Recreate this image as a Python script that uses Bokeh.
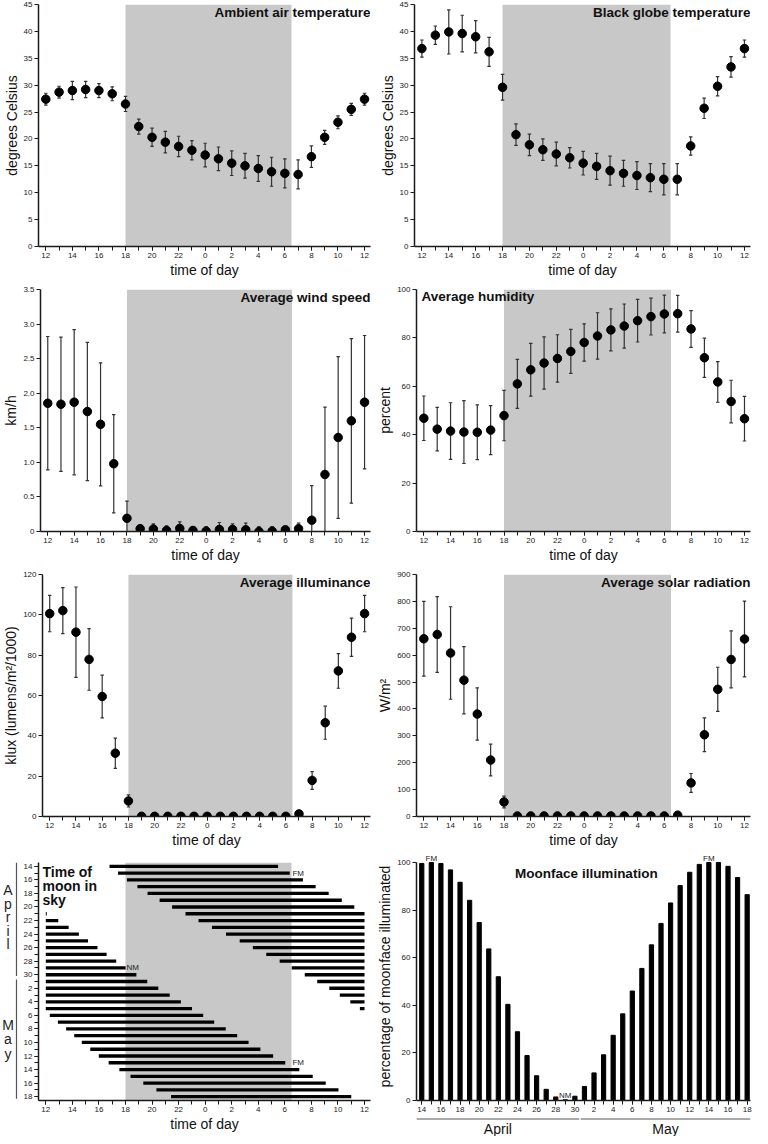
import math
from bokeh.plotting import figure
from bokeh.models import (Range1d, FixedTicker, ColumnDataSource, BoxAnnotation,
                          Label, PrintfTickFormatter)
from bokeh.layouts import column, row
from bokeh.embed import file_html
from bokeh.resources import INLINE
from bokeh.core.properties import value

# ---------------------------------------------------------------- data
hours = list(range(12, 37))          # 12:00 -> 12:00 next day
hour_ticks = [12, 14, 16, 18, 20, 22, 24, 26, 28, 30, 32, 34, 36]
hour_tick_labels = ["12", "14", "16", "18", "20", "22", "0", "2", "4", "6", "8", "10", "12"]
night_start = 18.0
night_end = 30.5

air_temp_mean = [27.4, 28.7, 29.0, 29.2, 29.0, 28.4, 26.5, 22.3, 20.3, 19.4, 18.6, 17.9, 17.0,
                 16.3, 15.5, 15.0, 14.5, 13.9, 13.6, 13.4, 16.7, 20.3, 23.1, 25.5, 27.4]
air_temp_err = [1.1, 1.1, 1.7, 1.5, 1.3, 1.3, 1.4, 1.4, 1.7, 2.0, 1.9, 1.8, 2.2,
                2.2, 2.3, 2.3, 2.4, 2.7, 2.7, 2.7, 2.0, 1.3, 1.2, 1.1, 1.1]

globe_mean = [36.8, 39.3, 39.9, 39.6, 39.0, 36.2, 29.6, 20.8, 18.9, 18.0, 17.2, 16.5, 15.5,
              14.9, 14.1, 13.6, 13.2, 12.8, 12.5, 12.5, 18.7, 25.7, 29.8, 33.4, 36.8]
globe_err = [1.6, 1.7, 4.1, 3.4, 3.0, 2.7, 2.4, 2.0, 2.0, 2.0, 2.2, 1.9, 2.2,
             2.4, 2.7, 2.4, 2.6, 2.6, 2.9, 2.9, 1.7, 1.9, 1.8, 1.9, 1.6]

wind_mean = [1.855, 1.84, 1.87, 1.735, 1.55, 0.98, 0.19, 0.04, 0.035, 0.015, 0.045, 0.015, 0.005,
             0.03, 0.03, 0.025, 0.0, 0.005, 0.025, 0.04, 0.163, 0.825, 1.36, 1.6, 1.87]
wind_err = [0.965, 0.97, 1.05, 1.0, 0.89, 0.71, 0.25, 0.05, 0.075, 0.065, 0.095, 0.055, 0.065,
            0.1, 0.08, 0.095, 0.07, 0.065, 0.045, 0.08, 0.5, 0.975, 1.17, 1.19, 0.965]

humidity_mean = [46.8, 42.3, 41.5, 41.1, 41.0, 41.9, 47.9, 61.0, 66.8, 69.6, 71.5, 74.4, 78.1,
                 80.8, 83.3, 84.9, 87.1, 88.8, 89.9, 90.0, 83.7, 71.8, 61.8, 53.7, 46.6]
humidity_err = [9.2, 9.0, 11.7, 13.0, 11.3, 10.1, 10.4, 10.1, 10.9, 10.8, 9.8, 9.1, 7.7,
                9.6, 8.7, 9.1, 8.8, 7.6, 7.8, 7.6, 7.6, 8.1, 8.4, 8.8, 9.2]

illum_mean = [100.6, 102.1, 91.4, 77.9, 59.5, 31.4, 7.7, 0.1, 0.1, 0.1, 0.1, 0.1, 0.1,
              0.1, 0.1, 0.1, 0.1, 0.1, 0.1, 1.3, 17.9, 46.5, 72.2, 88.9, 100.6]
illum_err = [9.0, 11.4, 22.4, 15.3, 10.6, 7.5, 3.0, 0.1, 0.1, 0.1, 0.1, 0.1, 0.1,
             0.1, 0.1, 0.1, 0.1, 0.1, 0.1, 1.4, 4.4, 8.2, 8.6, 9.5, 9.0]

solar_mean = [661, 677, 608, 507, 381, 210, 54, 2, 2, 2, 2, 2, 2,
              2, 2, 2, 2, 2, 2, 5, 125, 304, 473, 584, 660]
solar_err = [139, 141, 172, 125, 97, 59, 22, 0, 0, 0, 0, 0, 0,
             0, 0, 0, 0, 0, 0, 10, 35, 63, 82, 106, 141]

# moon: 14 April .. 18 May
moon_days = list(range(14, 31)) + list(range(1, 19))
moon_month = ["April"] * 17 + ["May"] * 18
nan = float("nan")
moon_early_set = [nan] * 7 + [12.07, 12.94, 13.72, 14.49, 15.18, 15.89, 16.58, 17.3,
                              18.01, 18.82, 19.64, 20.47, 21.33, 22.17, 23.01] + [nan] * 13
moon_rise = [16.8, 17.44, 18.11, 18.9, 19.66, 20.57, 21.51, 22.52, 23.5, 24.51, 25.57, 26.6,
             27.59, 28.6, 29.61, 30.52, 31.5, 32.44, 33.35, 34.14, 34.93, 35.65,
             12.3, 12.91, 13.53, 14.14, 14.71, 15.35, 15.99, 16.73, 17.54, 18.38, 19.34, 20.33, 21.43]
moon_set = [29.49, 30.37, 31.36, 32.32, 33.3, 34.29, 35.23] + [36.0] * 15 + \
           [23.85, 24.68, 25.55, 26.41, 27.27, 28.16, 29.12, 30.03, 31.09, 32.1, 33.08, 34.04, 35.0]
moon_illumination = [99.6, 100, 99.6, 96.9, 91.7, 84.1, 74.8, 63.7, 52.0, 40.4, 28.9, 18.9, 10.4,
                     4.7, 1.5, 0.3, 1.8, 5.9, 11.6, 19.2, 27.4, 36.4, 46.0, 55.5, 65.4, 74.4,
                     83.0, 90.3, 95.9, 99.2, 100, 100, 98.4, 93.7, 86.5]
phase_names = ["FM", "NM", "FM"]
phase_rows_sky = [1, 15, 29]
phase_rows_face = [1, 15, 30]
month_names = ["April", "May"]

# ---------------------------------------------------------------- style / layout
FONT = "Liberation Sans"
SHADE = "#c8c8c8"
ERR_COLOR = "#333333"
AXIS_COLOR = "#1a1a1a"
X_RANGE = (11.45, 36.45)
CAP = 0.13
TITLE_SIZE = "13.5px"

COL_W = [374, 378]
LB = [36, 40]
RB = [4, 2]
ROW_H = [284, 284, 284, 284]
TB = [4, 5, 6, 10]
BB = [38, 37, 36, 36]
STRIP7_W = 20
STRIP8_H = 20


def style_axes(p):
    for ax in list(p.xaxis) + list(p.yaxis):
        ax.axis_line_color = AXIS_COLOR
        ax.axis_line_width = 1.5
        ax.major_tick_line_color = AXIS_COLOR
        ax.minor_tick_line_color = AXIS_COLOR
        ax.major_tick_out = 4
        ax.major_tick_in = 0
        ax.minor_tick_out = 4
        ax.minor_tick_in = 0
        ax.major_label_text_font = FONT
        ax.major_label_text_font_size = "8px"
        ax.major_label_text_color = "#222222"
        ax.major_label_standoff = 2
        ax.axis_label_text_font = FONT
        ax.axis_label_text_font_size = "14px"
        ax.axis_label_text_font_style = "normal"
        ax.axis_label_text_color = "#111111"
        ax.axis_label_standoff = 1


def bare(p):
    p.title = None
    p.xgrid.visible = False
    p.ygrid.visible = False
    p.outline_line_color = None
    return p


def new_fig(width, height, xr, yr, lb, rb, tb, bb):
    p = figure(width=width, height=height,
               x_range=xr if isinstance(xr, Range1d) else Range1d(*xr),
               y_range=yr if isinstance(yr, Range1d) else Range1d(*yr),
               output_backend="svg", toolbar_location=None, tools="",
               min_border_left=lb, min_border_right=rb, min_border_top=tb, min_border_bottom=bb)
    bare(p)
    style_axes(p)
    return p


def strip_fig(width, height, xr, yr, lb, rb, tb, bb):
    p = figure(width=width, height=height,
               x_range=xr if isinstance(xr, Range1d) else Range1d(*xr),
               y_range=yr if isinstance(yr, Range1d) else Range1d(*yr),
               x_axis_type=None, y_axis_type=None,
               output_backend="svg", toolbar_location=None, tools="",
               min_border_left=lb, min_border_right=rb, min_border_top=tb, min_border_bottom=bb)
    return bare(p)


def hour_axis(p):
    p.xaxis.ticker = FixedTicker(ticks=hour_ticks, minor_ticks=hours)
    p.xaxis.major_label_overrides = dict(zip(hour_ticks, hour_tick_labels))
    p.xaxis.axis_label = "time of day"


def shade(p):
    p.add_layout(BoxAnnotation(left=night_start, right=night_end, fill_color=SHADE,
                               fill_alpha=1.0, line_color=None, level="underlay"))


def add_title(p, text, x, y, align="right", x_off=0, y_off=0, size=TITLE_SIZE):
    p.add_layout(Label(x=x, y=y, text=text, text_align=align, text_baseline="top",
                       x_offset=x_off, y_offset=y_off, text_font=FONT, text_font_size=size,
                       text_font_style="bold", text_color="#111111"))


def draw_points(p, mean, err):
    src = ColumnDataSource(dict(
        x=hours, y=mean,
        lo=[m - e for m, e in zip(mean, err)],
        hi=[m + e for m, e in zip(mean, err)],
        xl=[h - CAP for h in hours], xr=[h + CAP for h in hours]))
    p.segment("x", "lo", "x", "hi", source=src, line_color=ERR_COLOR, line_width=1.2)
    p.segment("xl", "hi", "xr", "hi", source=src, line_color=ERR_COLOR, line_width=1.2)
    p.segment("xl", "lo", "xr", "lo", source=src, line_color=ERR_COLOR, line_width=1.2)
    p.scatter("x", "y", source=src, size=8.5, color="black")


def hour_panel(r, c, ymax, ystep, ylabel, title, mean, err, title_align="right", decimals=False):
    p = new_fig(COL_W[c], ROW_H[r], X_RANGE, (0, ymax), LB[c], RB[c], TB[r], BB[r])
    shade(p)
    hour_axis(p)
    n = int(round(ymax / ystep))
    p.yaxis.ticker = FixedTicker(ticks=[k * ystep for k in range(n + 1)])
    if decimals:
        p.yaxis.formatter = PrintfTickFormatter(format="%.1f")
        p.yaxis.major_label_overrides = {0: "0"}
    p.yaxis.axis_label = ylabel
    draw_points(p, mean, err)
    if title_align == "left":
        add_title(p, title, X_RANGE[0], ymax, "left", x_off=5, y_off=1)
    else:
        add_title(p, title, X_RANGE[1], ymax, "right", x_off=0, y_off=0)
    return p


p1 = hour_panel(0, 0, 45, 5, "degrees Celsius", "Ambient air temperature", air_temp_mean, air_temp_err)
p2 = hour_panel(0, 1, 45, 5, "degrees Celsius", "Black globe temperature", globe_mean, globe_err)
p3 = hour_panel(1, 0, 3.5, 0.5, "km/h", "Average wind speed", wind_mean, wind_err, decimals=True)
p4 = hour_panel(1, 1, 100, 20, "percent", "Average humidity", humidity_mean, humidity_err, title_align="left")
p5 = hour_panel(2, 0, 120, 20, "klux (lumens/m\u00b2/1000)", "Average illuminance", illum_mean, illum_err)
p6 = hour_panel(2, 1, 900, 100, "W/m\u00b2", "Average solar radiation", solar_mean, solar_err)

# ---------------------------------------------------------------- time of moon in sky
n_rows = len(moon_days)
rows = list(range(n_rows))
y7 = Range1d(n_rows - 1 + 0.57, -0.57)
p7 = new_fig(COL_W[0] - STRIP7_W, ROW_H[3], X_RANGE, y7,
             LB[0] - STRIP7_W, RB[0], TB[3], BB[3])
shade(p7)
hour_axis(p7)
p7.yaxis.ticker = FixedTicker(ticks=rows[::2], minor_ticks=rows)
p7.yaxis.major_label_overrides = {i: str(moon_days[i]) for i in rows[::2]}

srcA = ColumnDataSource(dict(y=rows, x0=[hours[0]] * n_rows, x1=moon_early_set))
srcB = ColumnDataSource(dict(y=rows, x0=moon_rise, x1=moon_set))
p7.segment("x0", "y", "x1", "y", source=srcA, line_color="black", line_width=3.3)
p7.segment("x0", "y", "x1", "y", source=srcB, line_color="black", line_width=3.3)
p7.text(x=[night_end if n == "FM" else night_start for n in phase_names], y=phase_rows_sky,
        text=phase_names, x_offset=1, text_baseline="middle", text_align="left",
        text_font=value(FONT), text_font_size="8px", text_color="#222222")
for k, line in enumerate(["Time of", "moon in", "sky"]):
    add_title(p7, line, X_RANGE[0], -0.57, "left", x_off=4, y_off=-1 - 14 * k, size="14px")

# month strip on the left of the moon-in-sky panel (x in pixels, y shares the day rows)
s7 = strip_fig(STRIP7_W, ROW_H[3], (0, STRIP7_W), y7, 0, 0, TB[3], BB[3])
month_first = [moon_month.index(m) for m in month_names]
month_last = [n_rows - 1 - moon_month[::-1].index(m) for m in month_names]
lx, ly, lt = [], [], []
sy0, sy1 = [], []
for m, f, l in zip(month_names, month_first, month_last):
    centre = (f + l) / 2 - (0.5 if m == "April" else 0.0)
    step = 2.0 if m == "April" else 2.15
    for k, ch in enumerate(m):
        lx.append(7.5)
        ly.append(centre + (k - (len(m) - 1) / 2) * step)
        lt.append(ch)
    sy0.append(-0.57 if f == 0 else f - 0.3)
    sy1.append(l + 0.2 if l < n_rows - 1 else l + 0.3)
s7.segment(x0=[STRIP7_W - 4] * 2, y0=sy0, x1=[STRIP7_W - 4] * 2, y1=sy1,
           line_color="#555555", line_width=1.2)
s7.text(x=lx, y=ly, text=lt, text_align="center", text_baseline="middle",
        text_font=value(FONT), text_font_size="14px", text_color="#222222")

# ---------------------------------------------------------------- moonface illumination
p8_h = ROW_H[3] - STRIP8_H
bb8 = 16
ypp = 100 / (p8_h - TB[3] - bb8)
x8 = Range1d(-0.55, n_rows - 1 + 0.35)
p8 = new_fig(COL_W[1], p8_h, x8, (0, 100 + TB[3] * ypp), LB[1], RB[1], 0, bb8)
p8.vbar(x=rows, top=moon_illumination, width=0.44, color="black")
p8.xaxis.ticker = FixedTicker(ticks=rows[::2], minor_ticks=rows)
p8.xaxis.major_label_overrides = {i: str(moon_days[i]) for i in rows[::2]}
p8.yaxis.bounds = (0, 100)
p8.yaxis.ticker = FixedTicker(ticks=[0, 20, 40, 60, 80, 100])
p8.yaxis.axis_label = "percentage of moonface illuminated"
add_title(p8, "Moonface illumination", (x8.start + x8.end) / 2 + 0.3, 100, "center", y_off=-3)
p8.text(x=phase_rows_face, y=[moon_illumination[i] for i in phase_rows_face], text=phase_names,
        text_align="center", text_baseline="bottom",
        text_font=value(FONT), text_font_size="8px", text_color="#222222")

# month strip under the moonface panel (x shares the day index, y in pixels downward)
s8 = strip_fig(COL_W[1], STRIP8_H, x8, (STRIP8_H, 0), LB[1], RB[1], 0, 0)
mx0, mx1 = [], []
for f, l in zip(month_first, month_last):
    mx0.append(x8.start if f == 0 else f - 0.4)
    mx1.append(l + 0.45 if l < n_rows - 1 else x8.end)
s8.segment(x0=mx0, y0=[2.5] * 2, x1=mx1, y1=[2.5] * 2, line_color="#555555", line_width=1)
s8.text(x=[(a + b) / 2 for a, b in zip(mx0, mx1)], y=[4] * 2, text=month_names,
        text_align="center", text_baseline="top",
        text_font=value(FONT), text_font_size="14px", text_color="#111111")

layout = column(row(p1, p2), row(p3, p4), row(p5, p6), row(s7, p7, column(p8, s8)))
open("out.html", "w").write(file_html(layout, INLINE))
